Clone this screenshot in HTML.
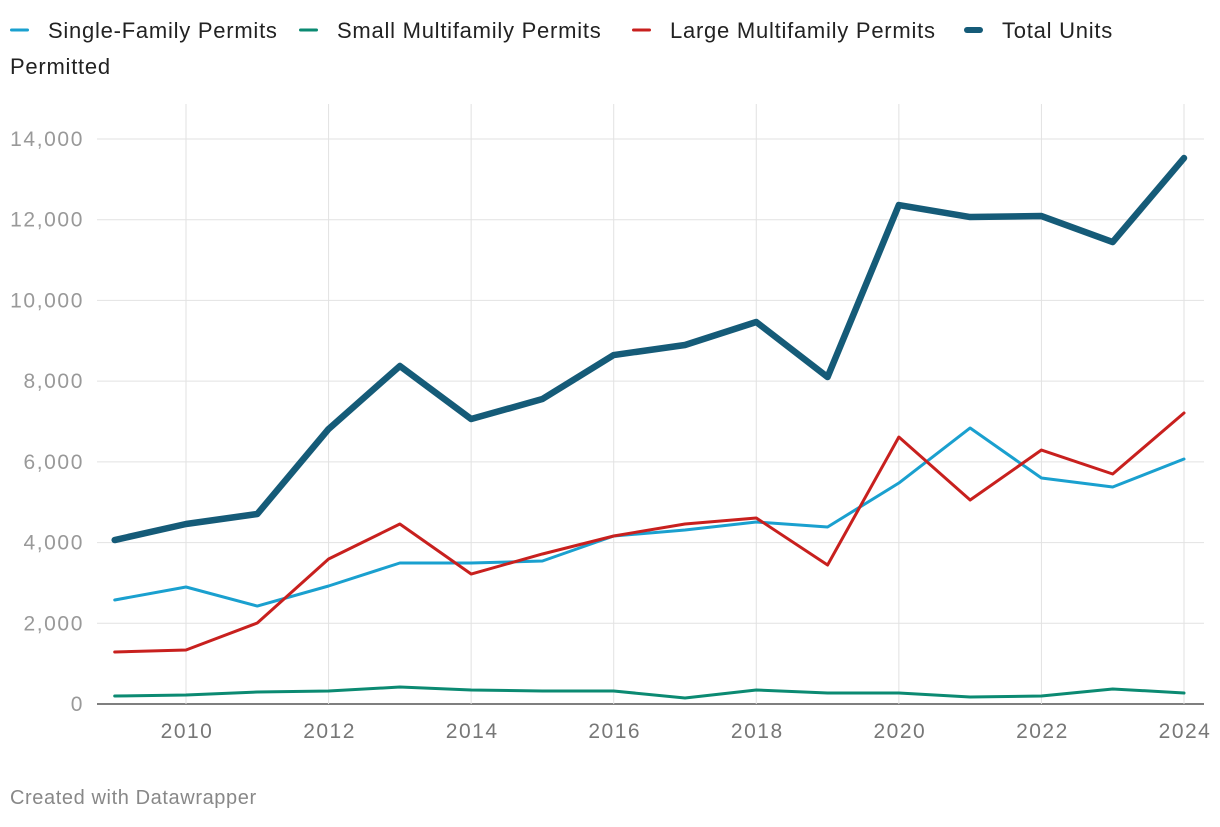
<!DOCTYPE html>
<html><head><meta charset="utf-8"><style>
body{margin:0;background:#fff;font-family:"Liberation Sans",sans-serif;}
</style></head><body>
<svg width="1220" height="822" xmlns="http://www.w3.org/2000/svg" font-family="Liberation Sans, sans-serif">
<g id="legend"></g>
<g id="grid"></g>
<g id="axes"></g>
<g id="lines"></g>
<text x="10" y="804" font-size="20" letter-spacing="0.6" fill="#888">Created with Datawrapper</text>
</svg>
<script>
const years=[2009,2010,2011,2012,2013,2014,2015,2016,2017,2018,2019,2020,2021,2022,2023,2024];
const singleFamily=[2577,2899,2428,2924,3494,3494,3543,4163,4311,4509,4386,5476,6839,5600,5377,6070];
const smallMulti=[198,223,297,322,421,347,322,322,149,347,273,273,173,198,372,273];
const largeMulti=[1288,1338,2007,3593,4460,3221,3717,4163,4460,4609,3444,6615,5054,6293,5699,7210];
const totalUnits=[4063,4460,4708,6814,8375,7061,7557,8647,8895,9465,8102,12364,12066,12091,11447,13528];
const yTicks=[0,2000,4000,6000,8000,10000,12000,14000];
const xTicks=[2010,2012,2014,2016,2018,2020,2022,2024];
const NS="http://www.w3.org/2000/svg";
const x=v=>186+(v-2010)*(998/14);
const y=v=>704-v*(565/14000);
function el(t,a,p){const e=document.createElementNS(NS,t);for(const k in a)e.setAttribute(k,a[k]);p.appendChild(e);return e;}
const grid=document.getElementById('grid'),axes=document.getElementById('axes'),lines=document.getElementById('lines'),legend=document.getElementById('legend');
yTicks.forEach(v=>{
 const l=el('line',{x1:97,x2:1204,y1:y(v),y2:y(v),stroke:v===0?'#333':'#e2e2e2','stroke-width':v===0?1.3:1},grid);
 
 
 const t=el('text',{x:84,y:y(v)+7,'text-anchor':'end','font-size':21,'letter-spacing':1.6,fill:'#999'},axes);
 t.textContent=v.toLocaleString('en-US');
 
 
});
xTicks.forEach(v=>{
 const l=el('line',{x1:x(v),x2:x(v),y1:104,y2:704,stroke:'#e2e2e2','stroke-width':1},grid);
 
 
 const t=el('text',{x:x(v)+1,y:738,'text-anchor':'middle','font-size':21,'letter-spacing':1.5,fill:'#777'},axes);
 t.textContent=v;
 
 
});
const series=[
 {name:'single-family-line',data:singleFamily,color:'#1aa0cf',w:3},
 {name:'small-multifamily-line',data:smallMulti,color:'#0b8a72',w:3},
 {name:'large-multifamily-line',data:largeMulti,color:'#c8201e',w:3},
 {name:'total-units-line',data:totalUnits,color:'#155b78',w:6.5}
];
series.forEach(s=>{
 const p=el('path',{d:s.data.map((v,i)=>(i?'L':'M')+x(years[i])+','+y(v)).join(''),fill:'none',stroke:s.color,'stroke-width':s.w,'stroke-linejoin':'round','stroke-linecap':'round'},lines);
 
 
});
const leg=[['Single-Family Permits','#1aa0cf',10,3],['Small Multifamily Permits','#0b8a72',299,3],['Large Multifamily Permits','#c8201e',632,3],['Total Units','#155b78',964,6]];
leg.forEach(g=>{
 const r=el('rect',{x:g[2],y:30-g[3]/2,width:19,height:g[3],rx:g[3]/2,fill:g[1]},legend);
 
 
 const t=el('text',{x:g[2]+38,y:38,'font-size':22,'letter-spacing':0.75,fill:'#222'},legend);
 t.textContent=g[0];
 
 
});
const t2=el('text',{x:10,y:74,'font-size':22,'letter-spacing':0.75,fill:'#222'},legend);
t2.textContent='Permitted';


</script>
</body></html>
